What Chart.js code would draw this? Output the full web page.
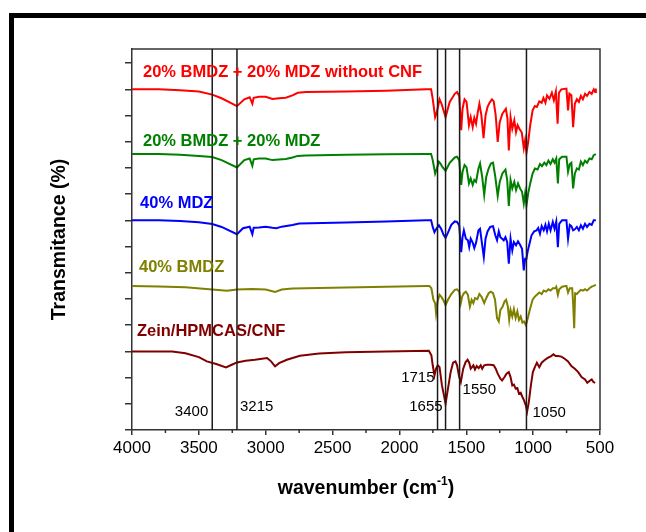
<!DOCTYPE html>
<html>
<head>
<meta charset="utf-8">
<script src="https://cdn.jsdelivr.net/npm/chart.js@4.4.1/dist/chart.umd.min.js"></script>
<style>
  html, body { margin: 0; padding: 0; background: #fff; }
  #wrap { position: relative; width: 646px; height: 532px; overflow: hidden; }
  #frame { position: absolute; left: 9px; top: 13px; right: -20px; bottom: -20px;
           border-left: 5px solid #000; border-top: 5px solid #000; }
  canvas { position: absolute; left: 0; top: 0; }
</style>
</head>
<body>
<div id="wrap">
  <div id="frame"></div>
  <canvas id="ftir" width="646" height="532"></canvas>
</div>
<script>
// FTIR spectra, [wavenumber (cm-1), transmittance (stacked, a.u.)]
const seriesNames = [
  "20% BMDZ + 20% MDZ without CNF",
  "20% BMDZ + 20% MDZ",
  "40% MDZ",
  "40% BMDZ",
  "Zein/HPMCAS/CNF"
];
const seriesColors = ["#ff0000", "#008000", "#0000ff", "#808000", "#800000"];

const bandPositions = [3400, 3215, 1715, 1655, 1550, 1050];
const xTickValues = [4000, 3500, 3000, 2500, 2000, 1500, 1000, 500];

const noCnfSpectrum = [
  [4000, 13.0], [3800, 13.0], [3640, 12.97], [3500, 12.92], [3400, 12.80], [3330, 12.66],
  [3215, 12.36], [3160, 12.62], [3120, 12.70], [3100, 12.45], [3090, 12.68], [3050, 12.72],
  [3000, 12.72], [2950, 12.63], [2900, 12.66], [2850, 12.68], [2800, 12.77], [2760, 12.87],
  [2700, 12.90], [2400, 12.92], [2100, 12.95], [1800, 13.0],
  [1763, 13.0], [1751, 12.64], [1733, 11.94], [1720, 12.13], [1700, 12.62], [1685, 12.45],
  [1655, 11.94], [1624, 12.52], [1586, 12.83], [1569, 12.90], [1553, 12.75], [1538, 11.44],
  [1528, 12.26], [1513, 12.62], [1498, 12.52], [1480, 11.63], [1467, 11.94], [1452, 11.56],
  [1440, 11.91], [1427, 11.69], [1414, 12.13], [1402, 12.45], [1387, 12.01], [1371, 11.14],
  [1356, 12.01], [1341, 12.33], [1326, 12.49], [1308, 12.62], [1295, 12.54], [1280, 12.01],
  [1265, 10.99], [1250, 11.75], [1230, 12.07], [1204, 12.26], [1192, 11.88], [1182, 10.67],
  [1169, 11.94], [1156, 11.50], [1141, 11.82], [1128, 11.37], [1116, 11.63], [1103, 11.50],
  [1085, 11.35], [1070, 10.76], [1060, 11.05], [1050, 10.58], [1037, 10.99], [1022, 11.63],
  [1004, 12.20], [987, 12.36], [972, 12.33], [954, 12.54], [936, 12.49], [923, 12.67],
  [908, 12.49], [896, 12.77], [878, 12.64], [860, 12.87], [845, 12.58], [830, 12.92],
  [817, 11.69], [807, 12.87], [789, 13.0], [751, 13.03], [739, 12.20], [729, 12.83],
  [714, 12.77], [701, 11.56], [688, 12.45], [673, 12.62], [658, 12.52], [643, 12.75],
  [628, 12.62], [612, 12.83], [597, 12.75], [579, 12.90], [562, 12.83], [547, 13.0],
  [536, 12.90], [531, 13.03]
];

const mixSpectrum = [
  [4000, 10.53], [3800, 10.53], [3640, 10.50], [3500, 10.46], [3400, 10.42], [3330, 10.30],
  [3215, 10.02], [3160, 10.30], [3120, 10.36], [3100, 10.08], [3090, 10.33], [3050, 10.36],
  [3000, 10.36], [2950, 10.30], [2900, 10.32], [2850, 10.34], [2800, 10.40], [2760, 10.46],
  [2700, 10.48], [2400, 10.50], [2100, 10.52], [1800, 10.53],
  [1763, 10.53], [1751, 10.30], [1733, 9.79], [1720, 9.98], [1705, 10.24], [1693, 10.17],
  [1680, 10.05], [1655, 9.89], [1624, 10.20], [1586, 10.40], [1569, 10.43], [1553, 10.30],
  [1538, 9.35], [1528, 9.86], [1513, 10.11], [1498, 10.02], [1480, 9.41], [1467, 9.60],
  [1452, 9.35], [1440, 9.54], [1427, 9.47], [1409, 9.98], [1397, 10.17], [1381, 9.66],
  [1366, 8.97], [1351, 9.66], [1333, 9.98], [1316, 10.17], [1300, 10.20], [1283, 9.66],
  [1265, 8.93], [1250, 9.47], [1230, 9.79], [1207, 9.94], [1194, 9.54], [1182, 8.55],
  [1169, 9.54], [1156, 9.22], [1141, 9.47], [1128, 9.16], [1113, 9.41], [1098, 9.22],
  [1083, 9.09], [1070, 8.65], [1060, 9.03], [1050, 8.58], [1037, 9.03], [1022, 9.41],
  [1004, 9.79], [987, 9.98], [967, 9.94], [949, 10.15], [934, 10.07], [916, 10.20],
  [901, 10.11], [886, 10.28], [870, 10.15], [853, 10.33], [840, 10.20], [827, 10.36],
  [815, 9.41], [805, 10.33], [784, 10.43], [751, 10.43], [739, 9.86], [726, 10.15],
  [714, 10.20], [701, 9.22], [688, 9.79], [673, 9.98], [658, 9.94], [643, 10.24],
  [628, 10.11], [612, 10.28], [597, 10.20], [579, 10.36], [562, 10.33], [547, 10.49],
  [531, 10.53]
];

const mdzSpectrum = [
  [4000, 8.0], [3800, 8.0], [3640, 7.98], [3500, 7.93], [3400, 7.86], [3330, 7.75],
  [3215, 7.47], [3170, 7.70], [3120, 7.76], [3100, 7.47], [3090, 7.72], [3050, 7.73],
  [3000, 7.76], [2950, 7.72], [2920, 7.70], [2880, 7.76], [2800, 7.82], [2750, 7.88],
  [2400, 7.92], [2100, 7.96], [1800, 8.0],
  [1763, 8.0], [1751, 7.75], [1738, 7.55], [1726, 7.66], [1705, 7.81], [1688, 7.68],
  [1670, 7.45], [1655, 7.33], [1637, 7.53], [1612, 7.83], [1586, 7.96], [1569, 7.94],
  [1553, 7.81], [1538, 6.79], [1528, 7.36], [1518, 7.62], [1503, 7.30], [1488, 7.24],
  [1478, 6.98], [1467, 7.30], [1452, 7.15], [1440, 6.94], [1427, 7.15], [1409, 7.62],
  [1397, 7.68], [1384, 7.17], [1369, 6.60], [1356, 7.30], [1341, 7.58], [1321, 7.75],
  [1300, 7.78], [1283, 7.43], [1270, 7.24], [1257, 7.58], [1245, 7.36], [1232, 7.30],
  [1220, 7.24], [1207, 7.36], [1194, 7.17], [1182, 6.35], [1169, 7.30], [1156, 6.85],
  [1144, 7.17], [1128, 7.05], [1113, 7.20], [1098, 7.07], [1083, 6.92], [1070, 6.09],
  [1060, 6.54], [1050, 6.54], [1042, 6.79], [1030, 7.05], [1012, 7.43], [992, 7.58],
  [974, 7.62], [962, 7.71], [949, 7.49], [936, 7.78], [921, 7.62], [908, 7.83],
  [896, 7.58], [883, 7.87], [870, 7.62], [853, 7.94], [840, 7.68], [827, 7.96],
  [815, 6.98], [805, 7.87], [784, 8.0], [751, 8.0], [739, 7.30], [726, 7.83],
  [714, 7.78], [701, 7.62], [688, 7.66], [673, 7.75], [658, 7.62], [643, 7.81],
  [628, 7.68], [612, 7.87], [597, 7.75], [579, 7.87], [562, 7.83], [547, 8.0],
  [531, 8.0]
];

const bmdzSpectrum = [
  [4000, 5.5], [3800, 5.48], [3600, 5.45], [3400, 5.36], [3290, 5.31], [3215, 5.36],
  [3100, 5.38], [3000, 5.36], [2930, 5.27], [2880, 5.36], [2800, 5.40], [2600, 5.42],
  [2200, 5.46], [1800, 5.5],
  [1776, 5.5], [1761, 5.41], [1746, 4.97], [1733, 4.84], [1726, 4.46], [1715, 4.90],
  [1700, 5.16], [1685, 5.07], [1670, 4.94], [1655, 4.77], [1637, 4.97], [1612, 5.19],
  [1586, 5.35], [1569, 5.37], [1553, 5.28], [1541, 4.84], [1531, 5.09], [1518, 5.22],
  [1503, 5.28], [1488, 5.16], [1473, 4.71], [1460, 4.97], [1447, 4.84], [1435, 5.03],
  [1417, 4.99], [1402, 5.19], [1384, 5.07], [1366, 4.84], [1351, 5.03], [1333, 5.22],
  [1316, 5.28], [1300, 5.22], [1285, 4.97], [1270, 4.27], [1257, 4.14], [1245, 4.58],
  [1230, 4.69], [1214, 4.90], [1202, 4.97], [1189, 4.71], [1179, 4.20], [1169, 4.58],
  [1156, 4.33], [1144, 4.61], [1131, 4.27], [1118, 4.52], [1106, 4.20], [1093, 4.33],
  [1080, 4.10], [1068, 4.14], [1055, 4.01], [1050, 4.08], [1037, 4.33], [1022, 4.65],
  [1004, 4.97], [987, 5.09], [972, 5.16], [954, 5.25], [936, 5.19], [921, 5.32],
  [903, 5.28], [886, 5.37], [870, 5.32], [853, 5.41], [835, 5.41], [827, 5.47],
  [815, 5.16], [805, 5.37], [784, 5.47], [751, 5.5], [739, 5.25], [726, 5.41],
  [708, 5.41], [701, 4.84], [693, 3.88], [686, 5.22], [673, 5.19], [658, 5.28],
  [643, 5.35], [628, 5.32], [612, 5.37], [597, 5.32], [579, 5.41], [562, 5.47],
  [547, 5.5], [531, 5.54]
];

const carrierSpectrum = [
  [4000, 3.0], [3700, 3.0], [3600, 2.93], [3500, 2.78], [3440, 2.62], [3370, 2.52],
  [3297, 2.39], [3250, 2.50], [3215, 2.58], [3150, 2.64], [3080, 2.68], [2990, 2.75],
  [2960, 2.62], [2930, 2.43], [2900, 2.55], [2842, 2.68], [2744, 2.83], [2600, 2.92],
  [2400, 2.97], [2100, 3.0], [1780, 3.02],
  [1761, 2.85], [1751, 2.47], [1738, 2.08], [1726, 2.34], [1713, 2.47], [1700, 2.40],
  [1682, 1.70], [1667, 1.32], [1655, 1.0], [1637, 1.58], [1617, 2.21], [1599, 2.57],
  [1581, 2.62], [1569, 2.47], [1553, 2.02], [1541, 1.83], [1523, 2.34], [1505, 2.59],
  [1490, 2.68], [1478, 2.57], [1467, 2.34], [1457, 2.40], [1447, 2.47], [1435, 2.31],
  [1422, 2.44], [1407, 2.36], [1392, 2.47], [1381, 2.34], [1366, 2.47], [1346, 2.49],
  [1321, 2.49], [1295, 2.47], [1280, 2.34], [1265, 2.15], [1245, 1.96], [1232, 1.89],
  [1214, 2.02], [1199, 2.15], [1182, 2.21], [1169, 2.02], [1156, 1.70], [1144, 1.73],
  [1131, 1.58], [1118, 1.60], [1106, 1.38], [1093, 1.42], [1080, 1.26], [1068, 1.13],
  [1055, 0.94], [1045, 0.71], [1032, 1.07], [1017, 1.70], [1002, 2.21], [987, 2.40],
  [972, 2.57], [954, 2.40], [936, 2.57], [916, 2.66], [891, 2.75], [865, 2.82],
  [848, 2.89], [832, 2.82], [815, 2.82], [789, 2.80], [764, 2.72], [739, 2.62],
  [714, 2.44], [688, 2.34], [663, 2.21], [638, 2.02], [612, 1.93], [595, 1.80],
  [574, 1.89], [562, 1.93], [549, 1.83], [536, 1.80]
];

const spectra = [noCnfSpectrum, mixSpectrum, mdzSpectrum, bmdzSpectrum, carrierSpectrum];

const FONT = "'Liberation Sans', Arial, Helvetica, sans-serif";

// where the band numbers and curve names sit (data coords)
const bandLabelSpots = {
  3400: { side: "left", gap: 4, y: 0.70 },
  3215: { side: "right", gap: 3, y: 0.89 },
  1715: { side: "left", gap: 3, y: 2.0 },
  1655: { side: "left", gap: 3, y: 0.89 },
  1550: { side: "right", gap: 3, y: 1.53 },
  1050: { side: "right", gap: 6, y: 0.66 }
};
const nameSpots = [
  { x: 3918, y: 13.66 },
  { x: 3918, y: 11.0 },
  { x: 3940, y: 8.65 },
  { x: 3948, y: 6.19 },
  { x: 3963, y: 3.75 }
];

const decor = {
  id: "decor",
  afterDatasetsDraw(chart) {
    const { ctx, chartArea: a, scales } = chart;
    const xs = scales.x, ys = scales.y;
    ctx.save();

    // top and right sides of the box
    ctx.strokeStyle = "#333";
    ctx.lineWidth = 1.5;
    ctx.beginPath();
    ctx.moveTo(a.left, a.top);
    ctx.lineTo(a.right, a.top);
    ctx.lineTo(a.right, a.bottom);
    ctx.stroke();

    // minor ticks between the labelled ones
    ctx.beginPath();
    for (let w = 3750; w > 500; w -= 500) {
      const px = xs.getPixelForValue(w);
      ctx.moveTo(px, a.bottom);
      ctx.lineTo(px, a.bottom + 3);
    }
    ctx.stroke();

    // band markers
    ctx.strokeStyle = "#1a1a1a";
    ctx.lineWidth = 1.5;
    ctx.font = "15px " + FONT;
    ctx.fillStyle = "#000";
    ctx.textBaseline = "middle";
    bandPositions.forEach(b => {
      const px = xs.getPixelForValue(b);
      ctx.beginPath();
      ctx.moveTo(px, a.top);
      ctx.lineTo(px, a.bottom);
      ctx.stroke();
      const s = bandLabelSpots[b];
      ctx.textAlign = s.side === "left" ? "right" : "left";
      const tx = s.side === "left" ? px - s.gap : px + s.gap;
      ctx.fillText(String(b), tx, ys.getPixelForValue(s.y));
    });

    // curve names
    ctx.font = "bold 16.5px " + FONT;
    ctx.textAlign = "left";
    seriesNames.forEach((n, i) => {
      ctx.fillStyle = seriesColors[i];
      ctx.fillText(n, xs.getPixelForValue(nameSpots[i].x), ys.getPixelForValue(nameSpots[i].y));
    });

    // axis titles
    ctx.fillStyle = "#000";
    ctx.font = "bold 19.5px " + FONT;
    ctx.save();
    ctx.translate(60, (a.top + a.bottom) / 2);
    ctx.rotate(-Math.PI / 2);
    ctx.textAlign = "center";
    ctx.fillText("Transmitance (%)", 0, 0);
    ctx.restore();

    const head = "wavenumber (cm", sup = "-1", tail = ")";
    const bigFont = "bold 19.5px " + FONT, supFont = "bold 12px " + FONT;
    ctx.font = bigFont;
    const wHead = ctx.measureText(head).width, wTail = ctx.measureText(tail).width;
    ctx.font = supFont;
    const wSup = ctx.measureText(sup).width;
    let x0 = (a.left + a.right) / 2 - (wHead + wSup + wTail) / 2;
    const ty = 489;
    ctx.textAlign = "left";
    ctx.font = bigFont;
    ctx.fillText(head, x0, ty);
    ctx.font = supFont;
    ctx.fillText(sup, x0 + wHead, ty - 7);
    ctx.font = bigFont;
    ctx.fillText(tail, x0 + wHead + wSup, ty);

    ctx.restore();
  }
};

new Chart(document.getElementById("ftir"), {
  type: "line",
  data: {
    datasets: spectra.map((s, i) => ({
      label: seriesNames[i],
      data: s.map(p => ({ x: p[0], y: p[1] })),
      borderColor: seriesColors[i],
      borderWidth: 2,
      pointRadius: 0,
      fill: false,
      tension: 0
    }))
  },
  options: {
    responsive: false,
    animation: false,
    layout: { padding: { top: 49, right: 46, left: 0, bottom: 0 } },
    plugins: { legend: { display: false }, tooltip: { enabled: false } },
    scales: {
      x: {
        type: "linear",
        reverse: true,
        min: 500,
        max: 4000,
        afterBuildTicks: s => { s.ticks = xTickValues.map(v => ({ value: v })); },
        ticks: {
          color: "#000",
          font: { family: FONT, size: 17 },
          padding: 3,
          maxRotation: 0,
          callback: v => String(v)
        },
        grid: { drawOnChartArea: false, tickLength: 5, color: "#333", lineWidth: 1.5 },
        border: { color: "#333", width: 1.5 },
        afterFit: s => { s.height = 102; }
      },
      y: {
        min: 0,
        max: 14.54,
        ticks: { display: false, stepSize: 1, includeBounds: false },
        grid: { drawOnChartArea: false, tickLength: 7, color: "#333", lineWidth: 1.5 },
        border: { color: "#333", width: 1.5 },
        afterFit: s => { s.width = 132; }
      }
    }
  },
  plugins: [decor]
});
</script>
</body>
</html>
